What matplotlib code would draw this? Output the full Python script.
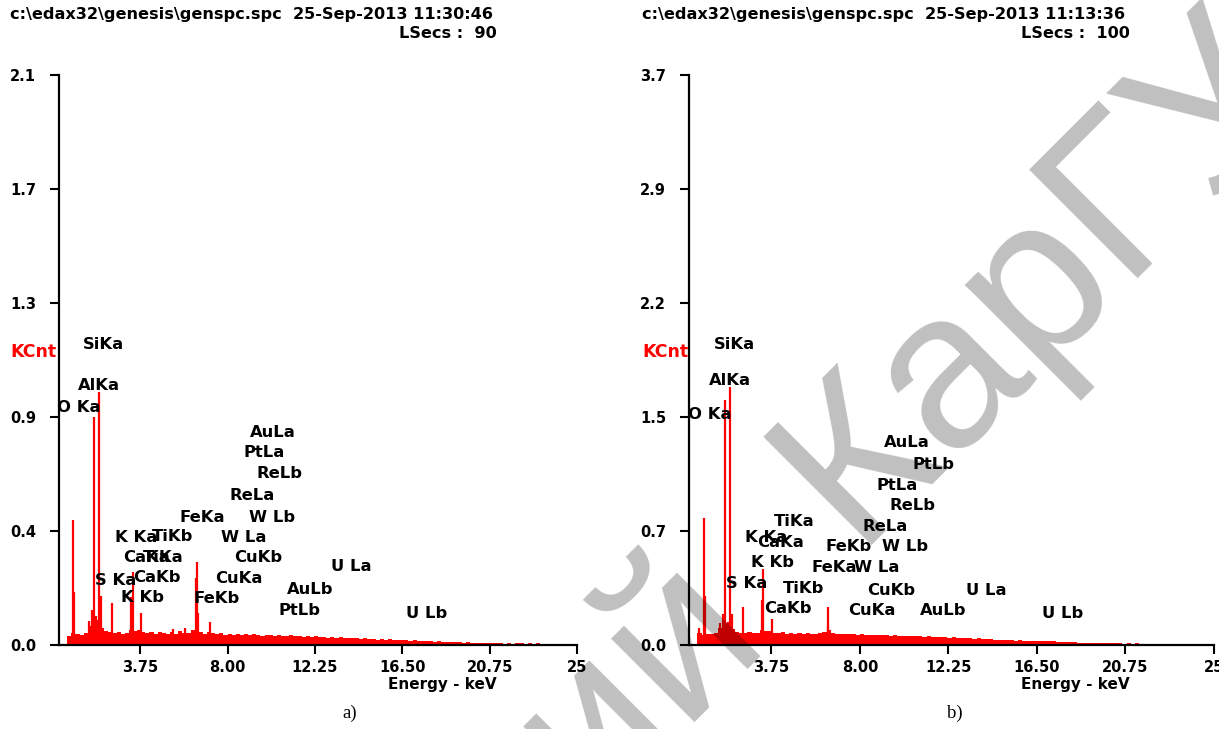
import numpy as np
import matplotlib
matplotlib.use("Agg")
import matplotlib.pyplot as plt

# ---- data ----
bin_w = 0.2  # keV per background bin, starting at 0 keV

bg_a = [0.0, 0.032, 0.045, 0.041, 0.038,
        0.044, 0.072, 0.088, 0.095, 0.062,
        0.052, 0.047, 0.044, 0.050, 0.043,
        0.046, 0.058, 0.051, 0.056, 0.047,
        0.044, 0.049, 0.042, 0.047, 0.045,
        0.043, 0.048, 0.041, 0.052, 0.046,
        0.044, 0.058, 0.062, 0.047, 0.043,
        0.050, 0.045, 0.041, 0.044, 0.039,
        0.042, 0.038, 0.041, 0.037, 0.040,
        0.036, 0.042, 0.038, 0.035, 0.039,
        0.037, 0.034, 0.038, 0.035, 0.033,
        0.036, 0.032, 0.035, 0.031, 0.034,
        0.030, 0.033, 0.029, 0.031, 0.028,
        0.030, 0.027, 0.029, 0.026, 0.028,
        0.025, 0.027, 0.024, 0.026, 0.022,
        0.023, 0.020, 0.022, 0.019, 0.021,
        0.018, 0.020, 0.017, 0.019, 0.016,
        0.017, 0.015, 0.016, 0.014, 0.015,
        0.013, 0.014, 0.012, 0.011, 0.012,
        0.010, 0.011, 0.009, 0.010, 0.009,
        0.008, 0.009, 0.007, 0.008, 0.007,
        0.006, 0.008, 0.005, 0.007, 0.005,
        0.006, 0.007, 0.004, 0.006, 0.004,
        0.006, 0.003, 0.005, 0.003, 0.0,
        0.0, 0.0]

bg_b = [0.0, 0.075, 0.065, 0.070, 0.072,
        0.075, 0.110, 0.140, 0.120, 0.100,
        0.085, 0.080, 0.078, 0.082, 0.075,
        0.078, 0.095, 0.088, 0.090, 0.080,
        0.076, 0.082, 0.074, 0.079, 0.073,
        0.077, 0.072, 0.080, 0.074, 0.071,
        0.075, 0.085, 0.095, 0.078, 0.072,
        0.070, 0.074, 0.068, 0.071, 0.066,
        0.069, 0.065, 0.067, 0.063, 0.066,
        0.062, 0.065, 0.061, 0.063, 0.059,
        0.060, 0.057, 0.059, 0.055, 0.057,
        0.054, 0.056, 0.052, 0.054, 0.050,
        0.051, 0.047, 0.049, 0.045, 0.046,
        0.043, 0.045, 0.041, 0.042, 0.039,
        0.040, 0.036, 0.035, 0.032, 0.033,
        0.030, 0.031, 0.028, 0.029, 0.027,
        0.028, 0.025, 0.026, 0.024, 0.025,
        0.023, 0.024, 0.021, 0.022, 0.020,
        0.019, 0.017, 0.016, 0.015, 0.014,
        0.014, 0.013, 0.012, 0.013, 0.011,
        0.012, 0.010, 0.011, 0.009, 0.010,
        0.008, 0.010, 0.007, 0.009, 0.006,
        0.008, 0.006, 0.007, 0.005, 0.006,
        0.0, 0.0, 0.0, 0.0, 0.0,
        0.0, 0.0]

peak_e_a = [0.50, 0.54, 1.25, 1.40, 1.50, 1.62, 1.76, 1.82, 2.36, 3.32, 3.38,
            3.77, 5.35, 5.93, 6.45, 6.50, 6.58, 7.14]
peak_h_a = [0.47, 0.20, 0.09, 0.13, 0.857, 0.11, 0.95, 0.185, 0.158, 0.18, 0.275,
            0.12, 0.06, 0.062, 0.25, 0.31, 0.12, 0.087]

peak_e_b = [0.28, 0.53, 0.57, 1.30, 1.45, 1.53, 1.65, 1.77, 1.85, 2.38, 3.30,
            3.34, 3.77, 6.45, 6.49]
peak_h_b = [0.11, 0.816, 0.315, 0.14, 0.20, 1.58, 0.15, 1.66, 0.20, 0.245, 0.29,
            0.49, 0.165, 0.12, 0.245]

# element labels: name, energy (keV, centre), height (KCnt)
lab_a = ["SiKa", "AlKa", "O Ka", "AuLa", "PtLa", "ReLb", "ReLa", "FeKa", "W Lb",
         "K Ka", "TiKb", "W La", "CaKa", "TiKa", "CuKb", "S Ka", "CaKb", "CuKa",
         "U La", "K Kb", "FeKb", "AuLb", "PtLb", "U Lb"]
lab_a_x = [1.94, 1.75, 0.77, 10.21, 9.80, 10.52, 9.19, 6.78, 10.16,
           3.57, 5.32, 8.80, 4.06, 4.86, 9.50, 2.57, 4.54, 8.55,
           14.03, 3.84, 7.46, 12.03, 11.52, 17.67]
lab_a_y = [1.130, 0.976, 0.893, 0.796, 0.721, 0.642, 0.563, 0.480, 0.480,
           0.402, 0.409, 0.405, 0.327, 0.330, 0.330, 0.244, 0.255, 0.248,
           0.293, 0.180, 0.173, 0.210, 0.131, 0.120]

lab_b = ["SiKa", "AlKa", "O Ka", "TiKa", "K Ka", "CaKa", "K Kb", "S Ka", "TiKb",
         "CaKb", "FeKb", "FeKa", "CuKa", "AuLa", "PtLb", "PtLa", "ReLb", "ReLa",
         "W Lb", "W La", "CuKb", "U La", "AuLb", "U Lb"]
lab_b_x = [1.98, 1.77, 0.81, 4.84, 3.50, 4.17, 3.83, 2.56, 5.30,
           4.53, 7.48, 6.76, 8.56, 10.24, 11.54, 9.81, 10.55, 9.19,
           10.17, 8.80, 9.52, 14.06, 12.00, 17.73]
lab_b_y = [1.938, 1.700, 1.481, 0.792, 0.695, 0.663, 0.534, 0.393, 0.361,
           0.232, 0.631, 0.502, 0.225, 1.301, 1.159, 1.030, 0.895, 0.766,
           0.631, 0.496, 0.354, 0.354, 0.219, 0.206]

ymax_a, ymax_b = 2.14, 3.67
ytick_lab_a = ["0.0", "0.4", "0.9", "1.3", "1.7", "2.1"]
ytick_lab_b = ["0.0", "0.7", "1.5", "2.2", "2.9", "3.7"]
xticks = [3.75, 8.00, 12.25, 16.50, 20.75, 25.0]
xtick_lab = ["3.75", "8.00", "12.25", "16.50", "20.75", "25"]

head_a = "c:\\edax32\\genesis\\genspc.spc  25-Sep-2013 11:30:46"
head_b = "c:\\edax32\\genesis\\genspc.spc  25-Sep-2013 11:13:36"
lsecs_a = "LSecs :  90"
lsecs_b = "LSecs :  100"

W, H = 1219, 729
fig = plt.figure(figsize=(W / 100, H / 100), dpi=100)
FB = dict(family="DejaVu Sans", weight="bold")


def panel(left, width, bg, pe, ph, labs, lx, ly, ymax, ylabs):
    ax = fig.add_axes([left / W, 84 / H, width / W, 570 / H])
    edges = np.arange(len(bg) + 1) * bin_w
    ax.stairs(bg, edges, fill=True, color="red", linewidth=0)
    ax.vlines(pe, 0, ph, color="red", linewidth=1.6)
    for t, x, y in zip(labs, lx, ly):
        ax.text(x, y, t, ha="center", va="center", fontsize=11.8, color="black", **FB)
    ax.set_xlim(-0.2, 25.0)
    ax.set_ylim(0, ymax)
    ax.set_yticks(np.linspace(0, ymax, 6))
    ax.set_yticklabels(ylabs, **FB)
    ax.set_xticks(xticks)
    ax.set_xticklabels(xtick_lab, **FB)
    ax.tick_params(labelsize=10.5, width=1.5, length=6.5, color="black", pad=4)
    ax.tick_params(axis="y", pad=10)
    for s in ["top", "right"]:
        ax.spines[s].set_visible(False)
    for s in ["left", "bottom"]:
        ax.spines[s].set_linewidth(1.6)
    ax.patch.set_alpha(0)
    return ax


panel(59, 518, bg_a, peak_e_a, peak_h_a, lab_a, lab_a_x, lab_a_y, ymax_a, ytick_lab_a)
panel(689, 525, bg_b, peak_e_b, peak_h_b, lab_b, lab_b_x, lab_b_y, ymax_b, ytick_lab_b)

for x0, x1, head, ls, cap, xc in [(10, 497, head_a, lsecs_a, "a)", 350),
                                  (642, 1130, head_b, lsecs_b, "b)", 955)]:
    fig.text(x0 / W, 1 - 15 / H, head, ha="left", va="center", fontsize=11.6, **FB)
    fig.text(x1 / W, 1 - 34 / H, ls, ha="right", va="center", fontsize=11.6, **FB)
    fig.text(x0 / W, 1 - 352 / H, "KCnt", ha="left", va="center", fontsize=12.5,
             color="red", **FB)
    fig.text(x1 / W, 1 - 684 / H, "Energy - keV", ha="right", va="center",
             fontsize=11, **FB)
    fig.text(xc / W, 1 - 713 / H, cap, ha="center", va="center", fontsize=13.5,
             family="Liberation Serif")

# repository watermark
fig.text(1311 / W, 1 - 106 / H, "Репозиторий  КарГУ", rotation=45,
         rotation_mode="anchor", ha="right", va="baseline", fontsize=160,
         family="Liberation Sans", color="black", alpha=0.25, zorder=10)

fig.savefig("out.png", dpi=100)
